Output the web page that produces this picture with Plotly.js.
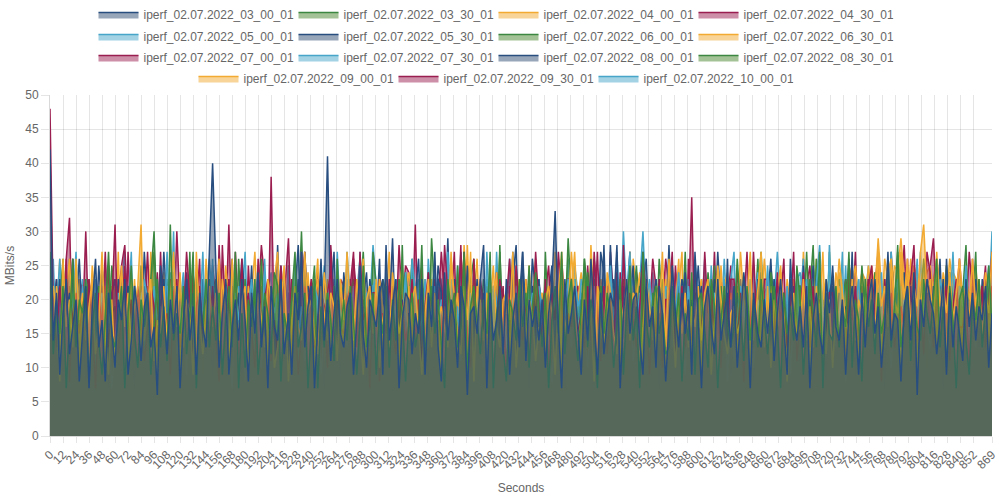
<!DOCTYPE html>
<html><head><meta charset="utf-8">
<script src="https://cdn.plot.ly/plotly-3.0.1.min.js"></script>
<style>html,body{margin:0;padding:0;background:#fff}#chart{width:999px;height:499px}</style>
</head><body><div id="chart"></div>
<script>
const seriesNames = [
  "iperf_02.07.2022_03_00_01","iperf_02.07.2022_03_30_01","iperf_02.07.2022_04_00_01","iperf_02.07.2022_04_30_01",
  "iperf_02.07.2022_05_00_01","iperf_02.07.2022_05_30_01","iperf_02.07.2022_06_00_01","iperf_02.07.2022_06_30_01",
  "iperf_02.07.2022_07_00_01","iperf_02.07.2022_07_30_01","iperf_02.07.2022_08_00_01","iperf_02.07.2022_08_30_01",
  "iperf_02.07.2022_09_00_01","iperf_02.07.2022_09_30_01","iperf_02.07.2022_10_00_01"];

const tickLabels = [0,12,24,36,48,60,72,84,96,108,120,132,144,156,168,180,192,204,216,228,240,252,264,276,288,300,
  312,324,336,348,360,372,384,396,408,420,432,444,456,468,480,492,504,516,528,540,552,564,576,588,600,612,624,636,
  648,660,672,684,696,708,720,732,744,756,768,780,792,804,816,828,840,852,869];

// MBits/s, one reading every ~3 seconds across 0..869 s
const s0 = [
42,14,21,9,18,23,12,16,20,8, 15,22,7,19,26,13,17,8,21,16, 10,20,17,23,9,14,22,18,11,19, 21,13,16,6,25,18,12,20,15,22,
7,17,23,14,19,9,21,16,13,27, 40,25,10,18,22,9,16,20,14,23, 17,8,21,15,24,13,19,7,22,16, 14,23,12,18,9,21,17,27,13,19,
22,7,16,26,14,20,11,18,23,15, 13,19,21,9,17,25,15,10,20,18, 16,22,9,28,14,19,23,7,17,21, 20,12,18,15,23,9,21,16,27,13,
8,24,14,20,17,10,22,19,6,18, 19,15,23,28,7,21,14,17,22,12, 23,9,17,21,13,27,11,20,16,19, 14,20,10,18,22,33,16,7,23,15,
18,22,15,9,20,14,26,17,9,21, 12,17,21,19,28,7,18,23,15,20, 21,14,9,23,16,19,10,22,18,8, 16,25,18,13,21,15,20,9,27,17,
7,19,22,16,12,23,14,18,21,13, 22,10,17,24,19,7,21,15,13,20, 15,21,11,18,23,16,9,26,17,14, 19,13,22,7,17,21,15,12,23,18,
25,16,14,20,9,18,22,17,9,21, 13,20,23,15,19,10,16,27,14,18, 17,8,19,22,14,24,6,20,16,23, 20,18,12,17,23,9,21,13,19,15,
11,23,16,21,14,19,17,22,10,18];
const s1 = [
27,12,19,15,22,7,17,26,13,20, 18,23,8,16,21,14,9,19,27,15, 13,17,22,7,18,25,15,10,20,16, 21,9,16,23,13,19,11,31,14,18,
15,22,12,18,27,7,20,16,23,13, 19,14,21,9,17,22,13,27,7,18, 10,20,16,23,9,15,21,18,12,24, 22,8,18,14,20,27,13,16,21,7,
16,23,7,19,13,21,17,11,26,15, 20,14,22,17,9,18,25,13,16,21, 9,19,15,22,10,20,14,23,18,8, 17,21,13,16,28,11,19,22,15,20,
14,7,23,18,21,13,16,27,9,19, 22,17,12,20,15,27,7,18,21,13, 8,20,18,14,23,16,21,10,19,24, 18,13,21,7,17,22,15,27,12,20,
23,16,11,19,26,13,20,17,7,22, 15,21,18,10,16,23,9,19,25,14, 19,7,27,17,13,20,22,15,18,12, 13,22,16,21,8,18,14,24,9,20,
21,15,10,23,19,7,17,22,16,13, 16,26,19,11,22,14,20,13,23,17, 12,18,22,16,7,21,15,19,14,25, 20,9,17,23,18,13,27,7,21,15,
14,22,13,19,16,27,10,20,17,8, 23,16,20,12,21,15,18,24,13,19, 28,13,17,22,11,20,16,14,23,18, 15,21,26,13,19,10,22,17,7,20,
22,14,9,20,17,23,13,19,25,16];
const s2 = [
15,22,18,8,26,16,20,13,26,17, 21,14,19,23,12,17,27,15,9,20, 10,18,25,16,21,13,19,22,31,14, 19,23,11,17,15,22,14,20,27,16,
24,13,20,18,9,27,17,12,19,22, 16,21,14,23,19,9,26,18,15,20, 22,9,18,15,21,17,13,23,20,10, 13,19,25,8,17,22,16,14,27,18,
20,15,12,22,18,14,21,19,11,23, 17,27,19,14,23,16,9,20,22,15, 23,10,17,21,13,24,19,15,18,21, 14,20,22,16,9,18,23,13,21,17,
19,16,13,26,20,15,12,22,17,27, 8,22,18,14,21,19,25,16,13,20, 21,17,27,10,16,23,14,20,18,11, 16,13,20,22,18,9,21,27,15,19,
27,20,14,17,23,13,19,8,22,16, 13,24,21,15,12,20,17,23,14,21, 20,11,16,23,19,14,22,18,27,13, 26,18,10,20,15,21,13,19,16,22,
14,21,23,9,17,25,20,15,12,18, 19,15,17,22,20,27,14,21,27,13, 22,10,20,16,24,18,8,17,21,15, 16,23,14,19,13,22,18,27,12,20,
10,19,26,21,17,15,23,14,20,18, 21,17,23,14,27,19,22,16,25,20, 18,27,20,26,16,22,19,27,31,21, 23,16,27,19,22,18,24,17,21,26,
20,22,17,26,19,23,15,21,18,27];
const s3 = [
48,19,13,22,16,26,8,18,21,15, 20,14,23,17,7,21,16,27,13,19, 31,12,18,25,15,20,13,22,17,11, 16,22,19,13,27,14,18,9,21,23,
13,17,27,20,10,19,22,15,18,14, 22,15,8,28,17,23,14,20,12,24, 18,21,16,10,26,15,20,23,11,17, 12,25,20,29,14,18,9,16,22,19,
23,13,17,21,19,10,27,14,20,16, 15,20,22,27,13,27,17,19,7,21, 21,8,18,15,23,16,12,22,19,14, 17,23,14,20,11,19,24,13,21,18,
14,28,21,16,22,13,18,27,15,10, 26,16,13,19,15,21,9,17,23,20, 8,22,17,25,18,14,20,12,16,27, 19,14,23,10,21,17,27,20,13,18,
16,21,15,18,13,22,14,27,19,11, 22,12,20,14,24,7,28,16,21,17, 13,19,26,21,9,18,15,23,10,20, 20,27,12,16,22,13,19,14,25,16,
15,27,18,22,14,20,10,21,17,23, 23,14,21,8,19,16,27,13,20,15, 12,20,15,23,17,21,13,18,27,11, 18,24,19,13,22,15,20,9,16,21,
21,15,13,20,10,26,17,22,14,19, 14,22,25,17,20,8,23,16,21,13, 17,19,16,21,23,28,14,20,12,27, 24,13,20,15,18,22,11,19,23,16,
16,21,10,26,14,19,22,13,20,27];
const s4 = [
18,26,13,20,16,22,8,19,27,14, 22,15,19,12,23,17,21,14,18,7, 13,21,16,25,11,18,22,15,20,23, 20,10,22,17,19,14,27,16,30,12,
16,23,9,21,14,20,17,27,13,19, 24,14,18,13,22,16,7,21,17,23, 8,19,23,16,20,10,26,15,21,18, 21,16,13,25,18,22,14,19,11,20,
15,22,20,9,16,19,23,13,27,17, 19,13,17,22,12,27,16,21,14,22, 23,18,10,19,21,14,20,8,17,24, 12,26,21,15,17,23,13,18,22,16,
20,15,18,23,13,19,11,25,16,21, 17,21,14,10,27,16,22,20,13,18, 14,9,20,22,18,24,15,17,21,12, 22,19,16,14,8,20,26,13,18,23,
13,23,19,21,16,10,18,22,15,20, 19,14,25,17,20,15,13,21,27,11, 16,21,12,19,23,18,20,14,17,22, 21,13,18,24,15,9,22,16,20,14,
18,26,15,13,21,19,16,23,8,20, 11,17,22,19,14,23,10,20,18,16, 25,16,13,21,18,15,22,9,19,23, 15,20,23,12,17,22,28,18,14,21,
20,13,17,27,8,16,21,19,23,15, 16,22,19,14,20,24,13,17,10,21, 23,12,21,18,15,19,26,14,20,17, 13,19,16,23,21,12,18,27,15,22,
19,25,14,17,13,21,16,20,23,18];
const s5 = [
12,20,16,23,8,18,21,14,19,26, 17,8,22,15,20,13,25,18,7,21, 23,16,10,19,22,15,7,20,17,13, 14,21,18,11,16,27,19,13,22,15,
20,13,24,17,21,7,15,23,12,18, 9,19,15,22,13,20,26,16,21,9, 22,17,20,14,18,10,23,8,19,16, 15,25,11,20,16,21,28,13,18,22,
19,12,17,23,7,16,20,27,14,9, 24,18,14,16,22,13,19,8,23,20, 13,21,23,10,18,29,14,17,20,16, 18,15,20,26,14,17,8,22,13,23,
21,7,16,19,23,12,20,15,25,17, 16,23,13,21,11,18,22,19,14,20, 10,19,27,15,20,27,16,7,22,18, 23,14,18,9,24,15,19,21,7,16,
17,22,12,20,16,21,13,26,18,14, 28,13,19,23,15,8,22,17,20,25, 14,20,27,16,10,19,23,7,21,15, 28,16,11,22,18,24,14,20,13,19,
22,12,20,17,23,15,18,13,26,9, 15,21,16,9,19,22,8,23,17,20, 19,14,23,18,10,17,21,16,22,13, 11,25,17,20,15,23,13,19,8,21,
23,16,21,12,19,14,27,9,18,20, 17,20,13,23,16,21,7,22,15,19, 21,8,24,15,22,10,18,20,16,23, 14,22,16,19,7,26,17,13,21,18,
20,15,18,22,17,13,23,16,11,21];
const s6 = [
22,16,8,19,26,13,17,21,15,7, 14,20,23,12,17,22,15,19,11,18, 19,13,17,22,15,7,21,14,25,16, 9,23,30,16,20,18,13,22,17,21,
21,15,13,27,8,17,20,16,10,23, 16,22,19,14,20,12,18,24,15,13, 23,11,16,21,13,26,15,7,22,19, 13,18,22,7,19,16,21,14,23,17,
20,25,10,18,15,21,9,22,16,14, 15,7,21,23,17,14,20,18,12,27, 22,17,14,8,21,19,16,13,28,10, 12,21,19,15,23,7,24,17,20,16,
18,13,22,20,14,17,10,21,19,23, 26,16,11,17,22,15,20,13,28,7, 14,20,18,23,12,21,16,25,9,19, 19,10,27,15,18,13,22,7,20,16,
8,23,17,20,14,24,16,19,13,22, 21,15,13,19,23,12,18,21,16,14, 16,22,20,11,17,21,14,26,19,13, 23,14,17,22,13,19,9,16,21,20,
13,19,21,16,25,8,22,14,18,15, 20,11,15,23,18,16,13,21,27,17, 15,24,19,10,21,14,20,17,9,22, 22,17,27,16,13,26,15,20,18,12,
10,21,14,19,23,17,8,22,16,25, 18,15,22,13,20,12,23,16,19,14, 27,19,16,21,11,22,17,13,21,15, 14,10,23,17,19,15,24,20,12,22,
21,28,13,20,16,23,14,18,22,19];
const s7 = [
19,14,22,17,12,21,26,15,18,23, 13,21,16,25,19,8,17,22,14,20, 22,17,10,20,15,23,18,13,21,16, 15,27,19,13,22,16,11,20,24,18,
21,12,17,23,14,19,22,16,13,21, 17,20,26,15,9,18,14,23,19,10, 14,22,18,12,21,25,17,20,15,23, 27,15,13,19,17,10,21,8,22,16,
12,20,23,16,24,19,13,17,21,14, 20,17,11,22,14,21,26,15,10,19, 16,23,19,13,20,15,18,22,25,9, 22,14,21,18,12,23,16,19,15,20,
8,19,15,27,17,21,13,28,20,17, 23,16,20,11,22,14,19,24,10,18, 18,21,13,20,15,17,23,9,19,26, 15,12,22,17,23,19,14,21,16,13,
21,27,16,14,19,10,25,17,22,20, 14,18,23,21,13,20,16,8,27,15, 20,24,12,16,22,17,21,19,14,23, 16,13,19,26,11,22,15,20,18,10,
23,20,17,12,21,14,25,16,13,21, 13,16,27,20,18,23,12,22,19,15, 19,22,14,17,24,13,21,15,23,18, 22,15,20,13,16,26,18,21,10,20,
17,24,21,23,19,16,22,25,20,24, 23,19,25,21,29,22,17,24,26,20, 20,26,18,24,21,25,23,19,22,24, 25,21,23,19,24,20,26,22,18,23,
18,23,20,25,17,22,19,24,21,16];
const s8 = [
17,22,13,20,15,26,32,12,19,23, 21,14,18,23,8,16,22,19,13,20, 13,20,25,28,17,10,21,15,22,18, 27,16,11,19,22,20,14,23,17,12,
15,21,19,13,24,16,22,9,20,17, 20,12,28,17,14,23,18,21,13,26, 10,25,16,21,19,8,17,14,38,15, 22,17,20,14,23,18,12,27,16,21,
14,19,23,11,16,21,24,18,13,20, 21,13,17,26,20,15,19,10,22,16, 18,23,12,20,14,22,16,28,19,13, 13,16,21,17,25,10,20,15,23,19,
27,20,14,22,18,16,28,9,17,21, 16,12,23,19,13,21,15,24,20,14, 20,26,17,10,22,18,23,16,8,19, 12,18,21,25,16,13,20,22,17,23,
23,15,13,20,21,19,11,17,27,14, 17,22,19,14,10,24,16,21,13,20, 14,20,16,23,18,26,22,12,19,26, 22,13,25,17,21,15,19,35,14,16,
19,21,10,16,27,13,23,18,20,9, 15,24,20,22,14,19,16,21,12,23, 23,16,18,13,20,26,10,17,22,15, 13,19,22,25,16,8,21,14,20,18,
21,14,16,19,23,20,17,27,13,22, 16,23,21,12,18,22,14,20,24,17, 20,17,13,26,15,21,23,16,19,10, 25,29,19,16,22,13,20,18,15,21,
12,18,27,21,17,20,15,23,19,22];
const s9 = [
20,13,18,26,16,21,14,19,12,22, 16,23,10,19,22,15,20,25,17,13, 22,15,21,14,18,27,8,16,23,19, 13,20,17,23,12,19,22,14,16,21,
19,24,14,16,21,10,18,23,20,15, 26,11,20,22,15,18,13,17,22,16, 15,21,13,19,25,16,21,12,18,23, 21,16,23,10,17,20,15,27,13,19,
12,19,17,24,20,14,22,16,21,9, 18,23,15,13,21,26,17,8,19,28, 22,14,20,17,10,19,23,21,15,18, 17,21,12,23,19,15,13,20,25,14,
14,18,27,16,22,11,21,17,10,20, 21,12,19,20,15,23,17,13,24,16, 16,26,15,10,19,21,14,22,18,13, 23,17,21,18,14,12,25,16,20,22,
10,20,16,23,21,18,13,19,9,17, 19,13,22,15,27,16,20,14,21,23, 15,22,30,19,12,24,17,21,16,13, 22,16,18,13,20,14,23,8,26,19,
17,21,14,25,16,22,10,20,15,23, 27,13,20,17,21,15,19,24,13,16, 14,19,23,12,18,21,16,13,22,20, 20,26,16,21,14,19,23,17,10,28,
13,17,22,15,25,12,20,21,16,19, 21,15,19,23,13,20,14,18,27,10, 16,22,13,20,18,24,21,15,12,23, 22,14,26,16,21,13,19,23,17,20,
15,20,17,22,10,23,16,19,25,14];
const s10 = [
14,19,23,8,17,21,8,26,16,20, 22,12,17,20,14,25,18,11,21,15, 16,23,13,19,22,7,20,17,14,27, 19,15,21,10,18,23,16,21,9,17,
23,9,16,24,13,20,14,18,22,12, 10,20,18,15,23,17,21,7,19,26, 20,16,25,13,8,22,15,20,17,14, 28,14,12,21,19,16,23,13,27,18,
15,22,17,7,21,41,18,16,10,20, 21,13,23,19,16,12,20,24,14,22, 17,26,11,16,22,20,13,19,23,8, 9,18,20,23,15,21,17,10,16,25,
22,16,29,14,20,13,27,18,21,15, 18,21,13,20,17,24,8,22,15,19, 13,17,23,28,12,19,20,16,26,21, 20,10,16,21,25,14,18,23,11,17,
16,23,19,12,18,22,15,20,13,27, 24,14,28,17,21,16,10,19,22,7, 12,19,21,26,15,13,23,17,20,16, 21,15,14,19,23,20,16,12,18,25,
17,22,20,13,16,27,19,21,14,10, 13,18,23,16,21,12,20,14,24,19, 20,26,15,22,9,18,14,23,17,21, 16,12,21,19,25,15,22,13,20,7,
22,20,13,17,14,23,18,21,10,16, 14,23,18,21,16,8,20,15,27,19, 19,16,22,13,20,24,12,18,21,14, 23,11,17,26,15,19,21,16,13,20,
10,21,19,16,23,14,18,22,17,9];
const s11 = [
26,17,13,21,19,8,22,16,20,14, 12,22,19,15,23,18,13,21,16,25, 20,14,16,23,10,21,17,19,11,22, 15,21,27,18,16,13,23,12,20,17,
22,13,19,9,20,24,15,21,17,14, 18,23,10,20,14,19,22,8,26,16, 13,16,22,17,21,15,12,23,19,20, 21,19,14,25,10,22,18,30,15,11,
16,12,21,19,23,17,14,20,22,18, 23,20,15,13,18,21,27,16,10,19, 9,17,23,21,16,14,20,12,19,24, 19,26,16,10,22,18,13,29,21,15,
15,21,20,18,13,25,16,19,8,22, 22,14,17,23,20,12,21,15,27,16, 17,23,10,16,19,22,14,21,18,13, 14,19,22,20,11,17,24,13,16,29,
20,15,18,13,26,21,12,23,19,17, 10,22,21,17,15,19,23,16,9,20, 25,16,13,22,21,14,18,20,23,15, 18,21,20,14,16,27,12,19,17,22,
15,13,24,19,22,16,21,8,20,18, 21,20,16,23,10,18,15,26,14,19, 13,25,19,15,21,20,17,16,23,11, 22,17,12,21,28,14,20,19,13,27,
16,21,23,13,18,22,15,10,20,17, 20,14,16,24,19,13,21,23,17,15, 14,22,19,17,23,16,12,20,26,21, 21,18,13,22,15,25,19,14,16,23,
17,15,21,19,27,10,22,17,20,13];
const s12 = [
13,21,17,26,19,12,22,15,20,16, 20,16,23,13,18,21,8,25,17,22, 15,27,10,19,21,16,23,14,19,12, 22,13,20,16,11,24,17,21,15,23,
17,19,23,21,15,10,20,14,26,18, 12,22,16,13,25,20,17,23,9,19, 19,14,21,27,16,18,13,20,22,15, 23,17,13,19,22,14,21,16,10,24,
16,20,26,12,17,23,15,22,19,13, 21,10,18,22,14,19,25,8,17,20, 14,23,16,20,27,12,18,21,13,22, 24,18,21,15,13,20,16,23,19,10,
17,13,19,23,21,15,22,14,28,16, 20,26,14,18,12,21,17,19,23,15, 10,16,22,20,23,18,13,25,16,21, 19,21,17,13,15,27,20,12,22,18,
22,14,20,24,17,13,28,19,15,23, 15,23,13,18,22,20,16,21,10,26, 21,17,25,12,19,16,23,14,20,13, 14,20,16,22,27,10,18,23,17,21,
23,13,21,17,14,20,15,22,24,16, 16,22,19,23,12,18,21,13,20,26, 20,15,10,21,25,16,23,19,14,17, 13,27,18,16,20,22,14,21,23,19,
22,18,24,20,17,23,25,16,21,24, 19,25,21,24,22,18,26,23,20,25, 24,29,23,19,26,21,24,22,25,20, 21,23,26,22,20,25,19,24,23,21,
17,24,20,23,25,19,22,18,24,20];
const s13 = [
21,15,23,18,12,20,16,26,13,19, 16,30,14,21,19,13,22,17,25,8, 23,18,20,10,27,16,19,14,21,17, 12,22,17,24,15,21,13,20,16,30,
19,14,23,16,21,18,26,10,22,15, 25,20,13,19,16,31,14,27,18,21, 14,17,22,12,20,28,23,16,11,19, 20,23,16,21,14,19,10,22,27,17,
13,19,24,17,22,15,28,20,14,23, 22,12,18,20,16,26,19,13,21,15, 17,21,14,23,9,18,22,16,19,25, 24,16,31,13,20,22,15,21,10,18,
15,22,17,19,27,12,20,14,23,16, 21,13,20,16,18,23,8,19,17,22, 10,24,18,21,14,16,22,20,13,19, 23,17,14,12,20,21,15,26,19,16,
16,20,22,18,13,25,17,10,21,23, 19,14,27,20,16,13,21,18,27,12, 24,21,12,15,22,19,16,23,14,20, 13,18,20,23,17,10,26,15,21,19,
20,23,16,14,21,18,13,22,19,25, 17,12,22,19,27,15,20,16,11,21, 22,19,14,24,16,21,10,20,23,17, 14,26,19,13,20,17,22,15,21,12,
21,16,23,18,10,25,19,14,17,20, 18,13,20,22,27,15,21,23,16,19, 15,22,28,17,20,13,24,19,22,14, 22,18,14,21,16,23,17,12,20,26,
19,23,17,13,21,16,20,25,14,18];
const s14 = [
16,23,19,13,21,17,26,14,20,18, 23,12,20,17,15,22,13,19,25,16, 14,19,22,27,10,18,21,16,13,20, 20,15,13,19,23,16,20,24,18,12,
10,22,18,14,17,23,13,19,21,26, 19,17,25,21,13,15,22,12,16,20, 27,13,15,18,22,20,8,21,24,14, 15,21,23,13,16,26,19,17,10,22,
21,16,12,20,25,13,17,23,19,15, 13,27,20,16,19,22,14,12,23,18, 20,10,17,24,15,21,19,23,14,16, 16,19,22,14,21,13,26,18,20,23,
23,17,13,20,16,25,15,12,22,19, 14,22,21,17,23,19,13,27,16,20, 19,13,16,24,10,20,22,18,21,15, 22,20,14,19,23,16,12,21,17,26,
17,25,21,13,15,22,19,14,20,10, 13,16,19,23,21,18,30,20,27,17, 21,23,17,12,20,14,22,16,13,19, 15,18,24,20,16,23,13,21,19,22,
22,14,10,18,23,21,17,26,16,13, 18,21,23,15,13,20,25,12,22,17, 13,17,20,27,19,16,14,21,18,23, 24,20,15,13,22,18,21,16,10,19,
17,12,22,21,16,26,14,20,23,15, 20,25,18,14,23,13,17,22,19,21, 14,19,23,20,12,21,16,27,15,18, 23,15,17,22,19,14,22,13,21,16,
16,21,14,18,24,20,17,23,19,30];

const seriesValues = [s0,s1,s2,s3,s4,s5,s6,s7,s8,s9,s10,s11,s12,s13,s14];

// styles
const lineRGB = [[40,78,128],[60,135,65],[242,170,50],[155,30,80],[70,165,200]];
const fillRGB = [[48,78,115],[72,135,45],[242,170,50],[155,30,80],[70,165,200]];
const lastSecond = tickLabels[tickLabels.length - 1];

const traces = [];
for (let k = seriesValues.length - 1; k >= 0; k--) {
  const vals = seriesValues[k];
  const c = lineRGB[k % 5], f = fillRGB[k % 5];
  const n = vals.length;
  traces.push({
    type: 'scatter', mode: 'lines',
    name: seriesNames[k],
    x: vals.map((_, i) => Math.round(i * lastSecond / (n - 1))),
    y: vals,
    fill: 'tozeroy',
    fillcolor: `rgba(${f[0]},${f[1]},${f[2]},0.5)`,
    line: {color: `rgb(${c[0]},${c[1]},${c[2]})`, width: 1.5},
    legend: ['legend','legend2','legend3','legend4'][Math.floor(k / 4)],
    hoverinfo: 'skip'
  });
}

const font = {family: 'Liberation Sans, Arial, Helvetica, sans-serif', size: 12, color: '#666'};
function legendRow(topPx) {
  return {
    orientation: 'h', xref: 'container', yref: 'container', x: 0.5 - 6 / 999, xanchor: 'center',
    y: 1 - topPx / 499, yanchor: 'top',
    font: font, entrywidth: 145, entrywidthmode: 'pixels', itemwidth: 40, traceorder: 'reversed',
    bgcolor: 'rgba(0,0,0,0)'
  };
}

const layout = {
  width: 999, height: 499,
  margin: {l: 50, r: 7, t: 95, b: 63},
  paper_bgcolor: '#fff', plot_bgcolor: '#fff',
  font: font,
  showlegend: true,
  legend: legendRow(0),
  legend2: legendRow(22),
  legend3: legendRow(43),
  legend4: legendRow(64),
  xaxis: {
    type: 'linear', range: [0, lastSecond],
    tickmode: 'array', tickvals: tickLabels, ticktext: tickLabels.map(String),
    tickangle: -45, ticks: 'outside', ticklen: 6, tickcolor: 'rgba(0,0,0,0.1)',
    showgrid: true, gridcolor: 'rgba(0,0,0,0.1)', gridwidth: 1,
    showline: true, linecolor: 'rgba(0,0,0,0.15)', zeroline: false,
    tickfont: font,
    title: {text: 'Seconds', font: font, standoff: 12}
  },
  yaxis: {
    range: [0, 50], tickmode: 'linear', tick0: 0, dtick: 5,
    ticks: 'outside', ticklen: 8, tickcolor: 'rgba(0,0,0,0.1)',
    showgrid: true, gridcolor: 'rgba(0,0,0,0.1)', gridwidth: 1,
    showline: true, linecolor: 'rgba(0,0,0,0.15)', zeroline: false,
    tickfont: font,
    title: {text: 'MBits/s', font: font, standoff: 8}
  }
};

Plotly.newPlot('chart', traces, layout, {displayModeBar: false, staticPlot: true});
</script>
</body></html>
